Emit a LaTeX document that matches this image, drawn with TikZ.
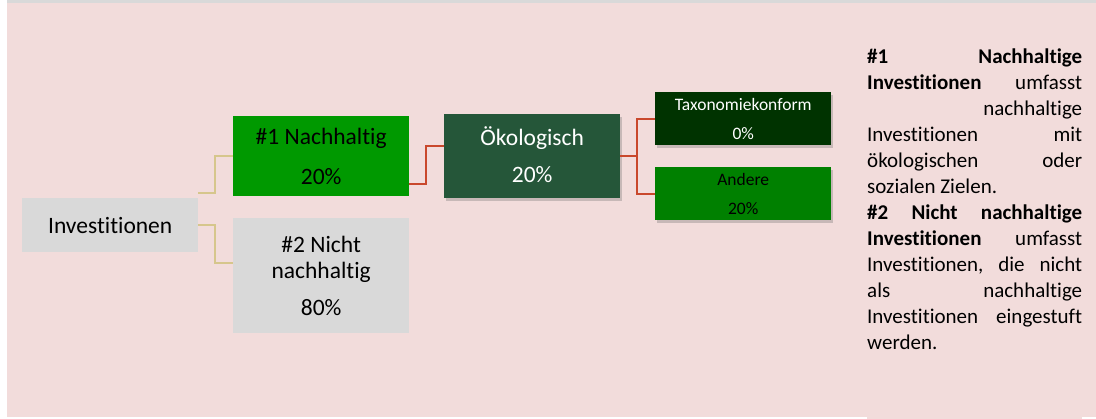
\documentclass[tikz,border=0pt]{standalone}
\usepackage{fontspec}
\setmainfont{Carlito}[Ligatures=CommonOff]
\usetikzlibrary{shadows}
\definecolor{bgpink}{HTML}{F2DCDB}
\definecolor{boxgrey}{HTML}{D9D9D9}
\definecolor{nachgreen}{HTML}{009900}
\definecolor{okogreen}{HTML}{255639}
\definecolor{taxgreen}{HTML}{003300}
\definecolor{andgreen}{HTML}{008000}
\definecolor{tanline}{HTML}{D6C68C}
\definecolor{redline}{HTML}{C9482C}
\newcommand{\jline}[1]{\hbox to 215pt{#1}}
\begin{document}
\begin{tikzpicture}[x=1pt,y=-1pt,
  boxnode/.style={anchor=north west, inner sep=0pt, align=center},
  shad/.style={drop shadow={shadow xshift=2pt, shadow yshift=-2.5pt, opacity=0.3, fill=black!60}},
  tanconn/.style={draw=tanline, line width=2pt},
  redconn/.style={draw=redline, line width=2pt}]
\useasboundingbox (0,0) rectangle (1096,419);
\fill[white] (0,0) rectangle (1096,419);
\fill[bgpink] (7,3) rectangle (1096,417);
\fill[bgpink] (867,417) rectangle (1082,419);
\fill[boxgrey] (7,0) rectangle (1096,3);

\node[boxnode, fill=boxgrey, minimum width=176, minimum height=54,
  font=\fontsize{23.5}{26}\selectfont] (inv) at (22,198) {Investitionen};
\node[boxnode, fill=nachgreen, minimum width=176, minimum height=80,
  font=\fontsize{23.5}{40}\selectfont] (n1) at (233,116) {\#1 Nachhaltig\\20\%};
\node[boxnode, fill=boxgrey, minimum width=176, minimum height=115,
  font=\fontsize{23.5}{26}\selectfont] (n2) at (233,218) {\#2 Nicht\\nachhaltig\\[11pt]80\%};
\node[boxnode, fill=okogreen, text=white, shad, minimum width=176, minimum height=84,
  font=\fontsize{23.5}{37}\selectfont] (oko) at (444,114) {Ökologisch\\20\%\rule[-4pt]{0pt}{0pt}};
\node[boxnode, fill=taxgreen, text=white, shad, minimum width=176, minimum height=53,
  font=\fontsize{17.5}{29}\selectfont] (tax) at (655,92) {Taxonomiekonform\\0\%};
\node[boxnode, fill=andgreen, text=black, shad, minimum width=176, minimum height=53,
  font=\fontsize{17.5}{29}\selectfont] (and) at (655,167) {Andere\\20\%};

\draw[tanconn] ([yshift=5pt]inv.north east) -- ++(17,0) |- (n1.west);
\draw[tanconn] (inv.east) -- ++(17,0) |- ([yshift=12.5pt]n2.west);
\draw[redconn] ([yshift=12pt]n1.south east) -- ++(17,0) |- ([yshift=10pt]oko.west);
\draw[redconn] (oko.east) -- ++(17,0) |- (tax.west);
\draw[redconn] (oko.east) -- ++(17,0) |- (and.west);

\node[anchor=north west, inner sep=0pt, align=left,
  font=\fontsize{21}{26}\selectfont] (desc) at (867,49) {%
  \jline{\textbf{\#1}\hfill\textbf{Nachhaltige}}\\
  \jline{\textbf{Investitionen}\hfill umfasst}\\
  \jline{\hfill nachhaltige}\\
  \jline{Investitionen\hfill mit}\\
  \jline{ökologischen\hfill oder}\\
  \jline{sozialen Zielen.\hfill}\\
  \jline{\textbf{\#2}\hfill\textbf{Nicht}\hfill\textbf{nachhaltige}}\\
  \jline{\textbf{Investitionen}\hfill umfasst}\\
  \jline{Investitionen,\hfill die\hfill nicht}\\
  \jline{als\hfill nachhaltige}\\
  \jline{Investitionen\hfill eingestuft}\\
  \jline{werden.\hfill}};
\end{tikzpicture}
\end{document}
